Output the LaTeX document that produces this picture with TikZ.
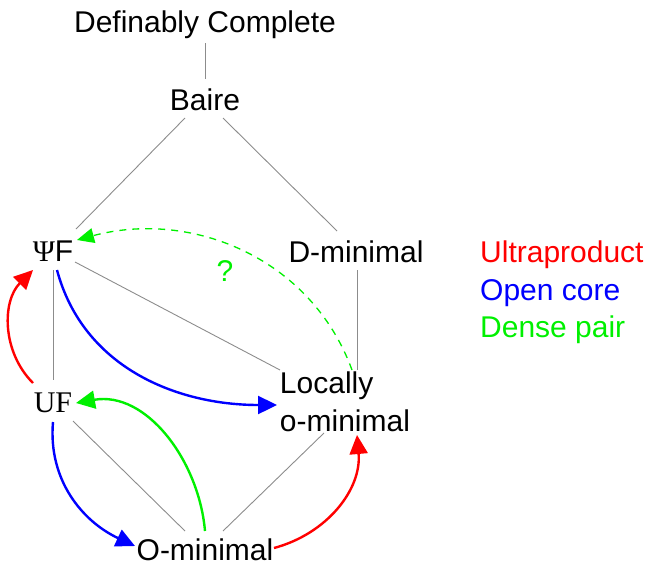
\documentclass[tikz,border=0pt]{standalone}
\usepackage{fontspec}
\setmainfont{Liberation Sans}
\newfontfamily\serifont{Liberation Serif}
\usetikzlibrary{arrows.meta}
\definecolor{cred}{RGB}{255,0,0}
\definecolor{cblue}{RGB}{0,0,255}
\definecolor{cgreen}{RGB}{0,240,0}
\definecolor{cgray}{RGB}{140,140,140}
\begin{document}
\begin{tikzpicture}[x=1pt,y=1pt,
  lbl/.style={font=\fontsize{30}{38}\selectfont, inner sep=0pt, text height=21pt, text depth=6pt, anchor=base},
  edge/.style={draw=cgray, line width=0.9pt},
  arr/.style={line width=2.4pt, -{Triangle[length=19pt,width=18pt]}},
  darr/.style={line width=1.3pt, dash pattern=on 7pt off 6pt, -{Triangle[length=17pt,width=15pt]}},
]
\useasboundingbox (0,0) rectangle (647,-565);

\node[lbl] (dc) at (205,-32) {Definably Complete};
\node[lbl] (baire) at (205,-110) {Baire};
\node[lbl] (psi) at (53,-261) {{\serifont Ψ}F};
\node[lbl] (dmin) at (356,-262) {D-minimal};
\node[lbl, anchor=base west, text=cred] (ultra) at (480,-262) {Ultraproduct};
\node[lbl, anchor=base west, text=cblue] (open) at (480,-300) {Open core};
\node[lbl, anchor=base west, text=cgreen] (dense) at (480,-337) {Dense pair};
\node[font=\fontsize{30}{38}\selectfont, align=left, inner sep=0pt] (loc) at (345,-402) {Locally\\o-minimal};
\node[lbl, font=\fontsize{30}{38}\selectfont\serifont] (uf) at (53,-412) {UF};
\node[lbl, text depth=2pt] (omin) at (205,-560) {O-minimal};
\node[lbl, text=cgreen] (q) at (225,-281) {?};

% gray order edges
\draw[edge] ([shift={(0,-18.5)}]dc.center) -- ([shift={(0,23.5)}]baire.center);
\draw[edge] ([shift={(-20,-15.5)}]baire.center) -- ([shift={(23,24.5)}]psi.center);
\draw[edge] ([shift={(18,-15.5)}]baire.center) -- ([shift={(-19,23.5)}]dmin.center);
\draw[edge] ([shift={(0,-16.5)}]psi.center) -- ([shift={(0,24.5)}]uf.center);
\draw[edge] ([shift={(22,-8.5)}]psi.center) -- ([shift={(-65,32)}]loc.center);
\draw[edge] ([shift={(1,-15.5)}]dmin.center) -- ([shift={(12,32)}]loc.center);
\draw[edge] ([shift={(20,-16.5)}]uf.center) -- ([shift={(-20,19.5)}]omin.center);
\draw[edge] ([shift={(-21,-31)}]loc.center) -- ([shift={(18,19.5)}]omin.center);

% coloured arrows
\draw[arr, cred] ([shift={(-20,21.5)}]uf.center) to[bend left=45] ([shift={(-20,-16.5)}]psi.center);
\draw[arr, cblue] ([shift={(4,-16.5)}]psi.center) to[out=-75, in=180] ([shift={(-68,-3)}]loc.center);
\draw[darr, cgreen] ([shift={(7,32)}]loc.center) to[out=110, in=15] ([shift={(24,13.5)}]psi.center);
\draw[arr, cgreen] ([shift={(0,19.5)}]omin.center) to[out=95, in=10] ([shift={(23,1.5)}]uf.center);
\draw[arr, cblue] ([shift={(0,-17.5)}]uf.center) to[out=-95, in=155] ([shift={(-70,4.5)}]omin.center);
\draw[arr, cred] ([shift={(69,2.5)}]omin.center) to[out=15, in=-85] ([shift={(12,-33)}]loc.center);
\end{tikzpicture}
\end{document}
